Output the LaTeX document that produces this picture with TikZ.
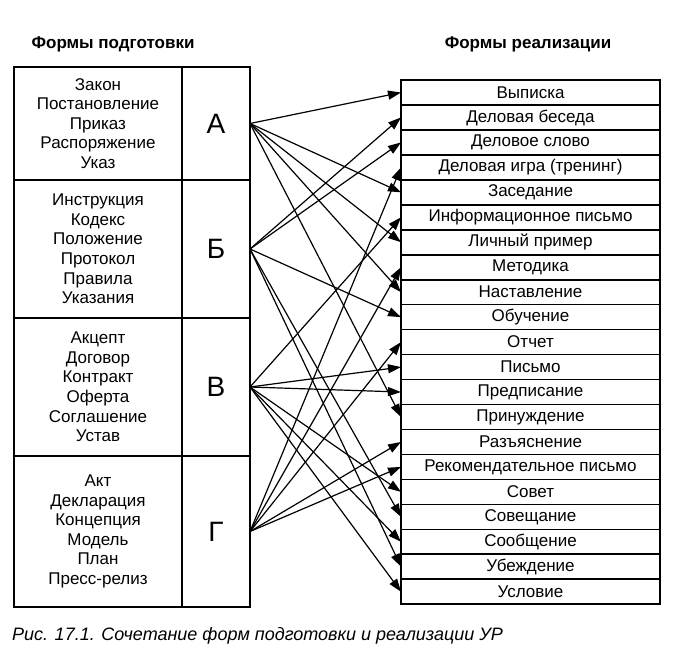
\documentclass[tikz,border=0pt]{standalone}
\usepackage{fontspec}
\setmainfont{Liberation Sans}
\usepackage{tikz}
\usetikzlibrary{arrows.meta, positioning}

\begin{document}
\begin{tikzpicture}[x=0.5pt, y=-0.5pt,
  prepbox/.style={rectangle, draw, line width=0.9pt, inner sep=0pt, outer sep=0pt,
                  minimum width=84pt, align=center,
                  font=\fontsize{8.5}{9.8}\selectfont},
  letterbox/.style={rectangle, draw, line width=0.9pt, inner sep=0pt, outer sep=0pt,
                  minimum width=34pt, font=\fontsize{14}{16}\selectfont},
  realbox/.style={rectangle, draw, line width=0.8pt, inner sep=0pt, outer sep=0pt,
                  minimum width=129.5pt, minimum height=12.48pt,
                  font=\fontsize{8.5}{10}\selectfont},
  heading/.style={font=\fontsize{8.5}{10}\selectfont\bfseries},
  arrow/.style={-{Triangle[length=6.5pt, width=4.5pt]}, line width=0.6pt}
]
\useasboundingbox (0,0) rectangle (683,653);

%% --- Headings ---
\node[heading] (headprep) at (113,44) {Формы подготовки};
\node[heading] (headreal) at (528,44) {Формы реализации};

%% --- Forms of preparation (left) ---
\node[prepbox, minimum height=56.5pt] (prepA) at (98,123.5)
    {Закон\\Постановление\\Приказ\\Распоряжение\\Указ};
\node[letterbox, minimum height=56.5pt, right=0pt of prepA] (letA) {А};
\node[prepbox, minimum height=69pt, below=0pt of prepA] (prepB)
    {Инструкция\\Кодекс\\Положение\\Протокол\\Правила\\Указания};
\node[letterbox, minimum height=69pt, right=0pt of prepB] (letB) {\raisebox{-6pt}{Б}};
\node[prepbox, minimum height=69pt, below=0pt of prepB] (prepV)
    {Акцепт\\Договор\\Контракт\\Оферта\\Соглашение\\Устав};
\node[letterbox, minimum height=69pt, right=0pt of prepV] (letV) {\raisebox{-5pt}{В}};
\node[prepbox, minimum height=75.5pt, below=0pt of prepV] (prepG)
    {Акт\\Декларация\\Концепция\\Модель\\План\\Пресс-релиз};
\node[letterbox, minimum height=75.5pt, right=0pt of prepG] (letG) {Г};

%% --- Forms of realisation (right) ---
\node[realbox] (r01) at (530.5,92.5) {Выписка};
\node[realbox, below=0pt of r01] (r02) {Деловая беседа};
\node[realbox, below=0pt of r02] (r03) {Деловое слово};
\node[realbox, below=0pt of r03] (r04) {Деловая игра (тренинг)};
\node[realbox, below=0pt of r04] (r05) {Заседание};
\node[realbox, below=0pt of r05] (r06) {Информационное письмо};
\node[realbox, below=0pt of r06] (r07) {Личный пример};
\node[realbox, below=0pt of r07] (r08) {Методика};
\node[realbox, below=0pt of r08] (r09) {Наставление};
\node[realbox, below=0pt of r09] (r10) {Обучение};
\node[realbox, below=0pt of r10] (r11) {Отчет};
\node[realbox, below=0pt of r11] (r12) {Письмо};
\node[realbox, below=0pt of r12] (r13) {Предписание};
\node[realbox, below=0pt of r13] (r14) {Принуждение};
\node[realbox, below=0pt of r14] (r15) {Разъяснение};
\node[realbox, below=0pt of r15] (r16) {Рекомендательное письмо};
\node[realbox, below=0pt of r16] (r17) {Совет};
\node[realbox, below=0pt of r17] (r18) {Совещание};
\node[realbox, below=0pt of r18] (r19) {Сообщение};
\node[realbox, below=0pt of r19] (r20) {Убеждение};
\node[realbox, below=0pt of r20] (r21) {Условие};
\draw[line width=1.3pt] (r01.north west) rectangle (r21.south east);

%% --- A ---
\draw[arrow] (letA.east) -- (r01.west);
\draw[arrow] (letA.east) -- (r05.west);
\draw[arrow] (letA.east) -- (r07.west);
\draw[arrow] (letA.east) -- (r09.west);
\draw[arrow] (letA.east) -- (r14.west);

%% --- Б ---
\draw[arrow] (letB.east) -- (r02.west);
\draw[arrow] (letB.east) -- (r03.west);
\draw[arrow] (letB.east) -- (r10.west);
\draw[arrow] (letB.east) -- (r18.west);
\draw[arrow] (letB.east) -- (r20.west);

%% --- В ---
\draw[arrow] (letV.east) -- (r06.west);
\draw[arrow] (letV.east) -- (r12.west);
\draw[arrow] (letV.east) -- (r13.west);
\draw[arrow] (letV.east) -- (r17.west);
\draw[arrow] (letV.east) -- (r19.west);
\draw[arrow] (letV.east) -- (r21.west);

%% --- Г ---
\draw[arrow] (letG.east) -- (r04.west);
\draw[arrow] (letG.east) -- (r08.west);
\draw[arrow] (letG.east) -- (r11.west);
\draw[arrow] (letG.east) -- (r15.west);
\draw[arrow] (letG.east) -- (r16.west);

%% --- Caption ---
\node[anchor=west, font=\fontsize{9}{11}\selectfont\itshape] (caption) at (5,636)
    {Рис. 17.1. Сочетание форм подготовки и реализации УР};

\end{tikzpicture}
\end{document}
